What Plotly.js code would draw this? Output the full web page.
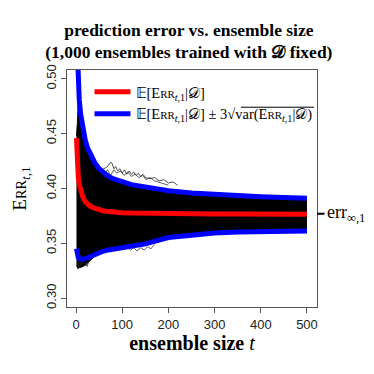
<!DOCTYPE html>
<html>
<head>
<meta charset="utf-8">
<script src="https://cdn.plot.ly/plotly-3.0.1.min.js"></script>
<style>html,body{margin:0;padding:0;background:#fff;}#chart{width:374px;height:374px;}</style>
</head>
<body>
<div id="chart"></div>
<script>
// ensemble size grid
const tGrid = [1,2,3,4,5,7,10,15,20,25,30,40,50,60,70,80,100,120,150,200,250,300,350,400,450,500];
// E[Err_t,1 | D]
const meanErr = [0.446,0.432,0.422,0.415,0.410,0.404,0.398,0.392,0.388,0.386,0.384,0.382,0.3805,0.3795,0.379,0.3785,0.378,0.3777,0.3774,0.3771,0.3769,0.3768,0.3767,0.3766,0.3765,0.3765];
// mean + 3 sd
const upperBand = [0.547,0.530,0.515,0.503,0.494,0.481,0.468,0.453,0.444,0.437,0.432,0.424,0.418,0.414,0.411,0.409,0.406,0.4035,0.4015,0.398,0.396,0.3945,0.3935,0.3925,0.3918,0.3912];
// mean - 3 sd
const lowerBand = [0.345,0.342,0.339,0.338,0.337,0.336,0.3355,0.3355,0.336,0.337,0.338,0.340,0.342,0.343,0.344,0.3448,0.3458,0.347,0.3495,0.3553,0.3575,0.3595,0.3603,0.3607,0.361,0.3612];
// envelope of the 1,000 individual ensemble curves
const curvesTop = [0.448,0.452,0.460,0.470,0.482,0.478,0.466,0.452,0.443,0.436,0.431,0.423,0.417,0.413,0.410,0.408,0.405,0.403,0.401,0.3978,0.3958,0.3943,0.3933,0.3923,0.3916,0.391];
const curvesBottom = [0.330,0.328,0.327,0.327,0.327,0.328,0.328,0.329,0.330,0.332,0.334,0.338,0.341,0.342,0.343,0.344,0.3455,0.3468,0.349,0.3552,0.3575,0.3596,0.3605,0.3609,0.3612,0.3614];
// individual curves that stray outside the band
const strayT1 = [55,60,65,70,75,78,82,86,90,95,100,105,110,115,120,125,130,135,140,145,150,160,170,180,190,200,210,220];
const strayV1 = [0.416,0.418,0.419,0.421,0.424,0.423,0.418,0.420,0.416,0.418,0.414,0.417,0.413,0.416,0.413,0.415,0.412,0.414,0.411,0.413,0.410,0.409,0.410,0.407,0.408,0.405,0.406,0.403];
const strayT2 = [55,62,68,75,82,88,96,104,112,120,128,136,144,152,160,170,185,200];
const strayV2 = [0.419,0.414,0.417,0.412,0.417,0.414,0.416,0.412,0.415,0.411,0.413,0.410,0.412,0.408,0.410,0.407,0.405,0.403];
const strayT3 = [20,24,28,32,36,40,45,50];
const strayV3 = [0.443,0.440,0.438,0.434,0.431,0.427,0.424,0.420];
const strayT4 = [3,5,8,10,13,16,20,24,28,32];
const strayV4 = [0.333,0.328,0.334,0.330,0.335,0.331,0.333,0.329,0.334,0.337];
const strayT5 = [110,118,125,132,140,148,155,162,170];
const strayV5 = [0.347,0.344,0.346,0.343,0.346,0.344,0.347,0.345,0.349];
const errInf = 0.377;
const xTicks = [0,100,200,300,400,500];
const yTicks = [0.30,0.35,0.40,0.45,0.50];

const sc = (s) => s.replace(/Err/g, "E<span style='font-size:0.75em'>RR</span>");
const meanLabel = sc("𝔼[Err<sub><i>t</i>,1</sub>|𝒟]");
const bandLabel = sc("𝔼[Err<sub><i>t</i>,1</sub>|𝒟] ± 3√var(Err<sub><i>t</i>,1</sub>|𝒟)");

const traces = [
  {x: tGrid, y: curvesBottom, mode: 'lines', line: {color: '#000', width: 1}, showlegend: false, hoverinfo: 'skip'},
  {x: tGrid, y: curvesTop, mode: 'lines', fill: 'tonexty', fillcolor: '#000', line: {color: '#000', width: 1}, showlegend: false, hoverinfo: 'skip'},
  {x: strayT1, y: strayV1, mode: 'lines', line: {color: '#222', width: 0.8}, showlegend: false},
  {x: strayT2, y: strayV2, mode: 'lines', line: {color: '#333', width: 0.8}, showlegend: false},
  {x: strayT3, y: strayV3, mode: 'lines', line: {color: '#222', width: 0.8}, showlegend: false},
  {x: strayT4, y: strayV4, mode: 'lines', line: {color: '#222', width: 0.8}, showlegend: false},
  {x: strayT5, y: strayV5, mode: 'lines', line: {color: '#333', width: 0.8}, showlegend: false},
  {x: tGrid, y: meanErr, mode: 'lines', name: meanLabel, line: {color: '#ff0000', width: 5}},
  {x: tGrid, y: upperBand, mode: 'lines', name: bandLabel, legendgroup: 'band', line: {color: '#0000ff', width: 5}},
  {x: tGrid, y: lowerBand, mode: 'lines', name: 'lower', legendgroup: 'band', showlegend: false, line: {color: '#0000ff', width: 5}}
];

const axisCommon = {
  showgrid: false, zeroline: false, showline: true, mirror: true,
  linecolor: '#555', linewidth: 1, ticks: 'outside', ticklen: 5, tickcolor: '#555',
  tickfont: {family: 'Liberation Sans, Arial, sans-serif', size: 13, color: '#222'}
};

const layout = {
  width: 374, height: 374,
  margin: {l: 67, r: 57, t: 70, b: 67},
  paper_bgcolor: '#fff', plot_bgcolor: '#fff',
  title: {
    text: 'prediction error vs. ensemble size<br>(1,000 ensembles trained with 𝒟 fixed)',
    font: {family: 'Liberation Serif, serif', size: 17.5, color: '#000', weight: 'bold'},
    x: 0.505, xref: 'container', xanchor: 'center',
    y: 0.905, yref: 'container', yanchor: 'top'
  },
  xaxis: Object.assign({}, axisCommon, {
    range: [-19.5, 521.7], tickvals: xTicks, ticktext: xTicks.map(String),
    title: {text: '<b>ensemble size</b> <i>t</i>', font: {family: 'Liberation Serif, serif', size: 20, color: '#000'}, standoff: 5}
  }),
  yaxis: Object.assign({}, axisCommon, {
    range: [0.292, 0.508], tickvals: yTicks, ticktext: yTicks.map(v => v.toFixed(2)), tickangle: -90,
    title: {text: sc('Err<sub><i>t</i>,1</sub>'), font: {family: 'Liberation Serif, serif', size: 19, color: '#000'}, standoff: 12}
  }),
  legend: {
    x: 0.09, y: 0.975, xanchor: 'left', yanchor: 'top', bgcolor: 'rgba(0,0,0,0)',
    font: {family: 'Liberation Serif, serif', size: 14.5, color: '#000'}, tracegroupgap: 0, itemwidth: 36
  },
  annotations: [
    {x: 1, xref: 'paper', y: errInf, yref: 'y', xanchor: 'left', yanchor: 'middle', showarrow: false,
     text: 'err<sub>∞,1</sub>', font: {family: 'Liberation Serif, serif', size: 18, color: '#000'}, xshift: 8}
  ],
  shapes: [
    {type: 'line', xref: 'paper', yref: 'y', x0: 1, x1: 1.03, y0: errInf, y1: errInf, line: {color: '#000', width: 2}},
    // radical bar over var(...)
    {type: 'line', xref: 'paper', yref: 'paper', x0: 0.696, x1: 0.988, y0: 0.843, y1: 0.843, line: {color: '#000', width: 1}}
  ]
};

Plotly.newPlot('chart', traces, layout, {displayModeBar: false, staticPlot: true});
</script>
</body>
</html>
